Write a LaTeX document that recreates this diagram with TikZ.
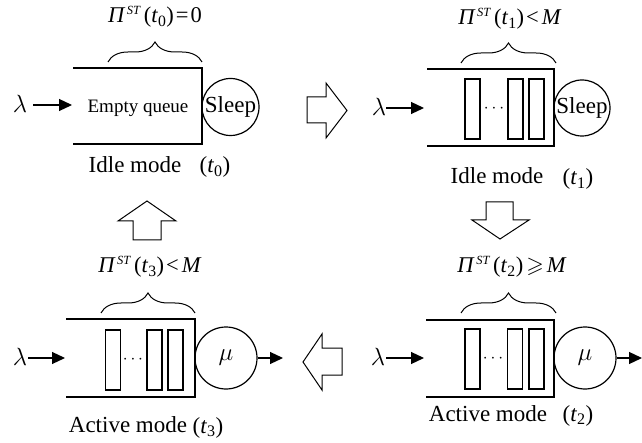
\documentclass[tikz,border=0pt]{standalone}
\usepackage{amssymb}
\usepackage{fontspec}
\setmainfont{Liberation Serif}
\usetikzlibrary{arrows.meta,decorations.pathreplacing}
\newcommand{\myPi}[1]{\textit{Π}\kern1.5pt\raisebox{8pt}{\fontsize{12.5}{13}\selectfont\textit{ST}}\kern3pt(\textit{t}\textsubscript{#1})}
\newcommand{\myT}[1]{(\textit{t}\textsubscript{#1})}
\begin{document}
\begin{tikzpicture}[x=1pt,y=-1pt,
  qline/.style={line width=1.2pt,line join=miter},
  srv/.style={circle,draw,line width=1.2pt,minimum size=#1,inner sep=0pt},
  bar/.style={draw,line width=1.2pt,minimum width=15pt,minimum height=60pt,inner sep=0pt},
  feed/.style={line width=1.2pt,-{Triangle[length=13pt,width=12pt]}},
  brc/.style={decorate,decoration={brace,amplitude=20pt},line width=1pt},
  hol/.style={draw,line width=1pt,line join=miter},
  lab/.style={font=\fontsize{23}{26}\selectfont,inner sep=0pt,anchor=base},
  mlab/.style={font=\fontsize{22.5}{25}\selectfont,inner sep=0pt,anchor=base},
  small/.style={font=\fontsize{19}{22}\selectfont,inner sep=0pt},
  dots/.style={inner sep=0pt,font=\fontsize{17}{20}\selectfont},
  lam/.style={inner sep=0pt,font=\fontsize{26}{28}\selectfont},
  mu/.style={srv=62pt,font=\fontsize{30}{32}\selectfont},
]
\useasboundingbox (0,0) rectangle (642,443);

% ---------- queue 0 (top left) ----------
\draw[qline] (73,68) -- (202,68) -- (202,144) -- (73,144);
\node[srv=57pt,font=\fontsize{23}{26}\selectfont] (s0) at (230.5,107) {Sleep};
\node[small] (e0) at (138,108) {Empty queue};
\node[lam] (l0) at (20,104) {$\lambda$};
\coordinate (i0) at (72,105);
\draw[feed] (33,105) -- (i0);
\draw[brc] (108,62) -- (202,62);
\node[mlab] (p0) at (155,23) {\myPi{0}\kern2pt=\kern2pt0};
\node[lab] (m0) at (135,173) {Idle mode};
\node[lab] (t0) at (215,173) {\myT{0}};

% ---------- queue 1 (top right) ----------
\draw[qline] (427,69) -- (554,69) -- (554,146) -- (427,146);
\node[bar] (b11) at (472.5,109) {};
\node[bar] (b12) at (515.5,109) {};
\node[bar] (b13) at (536.5,109) {};
\node[dots] (d1) at (494,109) {$\cdots$};
\node[srv=56pt,font=\fontsize{23}{26}\selectfont] (s1) at (582,108) {Sleep};
\node[lam] (l1) at (379,107) {$\lambda$};
\coordinate (i1) at (424,108);
\draw[feed] (386,108) -- (i1);
\draw[brc] (461,63) -- (556,63);
\node[mlab] (p1) at (510,25) {\myPi{1}\kern2pt<\kern3pt\textit{M}};
\node[lab] (m1) at (497,184) {Idle mode};
\node[lab] (t1) at (578,185) {\myT{1}};

% ---------- queue 2 (bottom right) ----------
\draw[qline] (426,320) -- (554,320) -- (554,397) -- (426,397);
\node[bar] (b21) at (472.5,359) {};
\node[bar] (b22) at (515,359) {};
\node[bar] (b23) at (536.5,359) {};
\node[dots] (d2) at (493,359) {$\cdots$};
\node[mu] (s2) at (585,358) {$\mu$};
\coordinate (o2) at (642,358);
\draw[feed] (s2.east) -- (o2);
\node[lam] (l2) at (378,357) {$\lambda$};
\coordinate (i2) at (424,358);
\draw[feed] (386,358) -- (i2);
\draw[brc] (461,313) -- (556,313);
\node[mlab] (p2) at (512,273) {\myPi{2}\kern3pt$\geqslant$\kern3pt\textit{M}};
\node[lab] (m2) at (488,421) {Active mode};
\node[lab] (t2) at (578,421) {\myT{2}};

% ---------- queue 3 (bottom left) ----------
\draw[qline] (66,319) -- (195,319) -- (195,397) -- (66,397);
\node[bar] (b31) at (113,360) {};
\node[bar] (b32) at (154.5,360) {};
\node[bar] (b33) at (175.5,360) {};
\node[dots] (d3) at (133,360) {$\cdots$};
\node[mu] (s3) at (226,358) {$\mu$};
\coordinate (o3) at (283,358);
\draw[feed] (s3.east) -- (o3);
\node[lam] (l3) at (20,357) {$\lambda$};
\coordinate (i3) at (65,358);
\draw[feed] (28,358) -- (i3);
\draw[brc] (101,313) -- (195,313);
\node[mlab] (p3) at (150,273) {\myPi{3}\kern2pt<\kern3pt\textit{M}};
\node[lab] (m3) at (128,432) {Active mode};
\node[lab] (t3) at (208,433) {\myT{3}};

% ---------- hollow transition arrows ----------
\draw[hol] (307,97) -- (326,97) -- (326,83) -- (347,110.5) -- (326,138) -- (326,123) -- (307,123) -- cycle;
\draw[hol] (486,202) -- (513,202) -- (513,220) -- (529,220) -- (500,239) -- (472,220) -- (486,220) -- cycle;
\draw[hol] (342,348) -- (322,348) -- (322,334) -- (303,362) -- (322,390) -- (322,375) -- (342,375) -- cycle;
\draw[hol] (133,240) -- (133,221) -- (118,221) -- (147,201) -- (176,221) -- (161,221) -- (161,240) -- cycle;
\end{tikzpicture}
\end{document}
